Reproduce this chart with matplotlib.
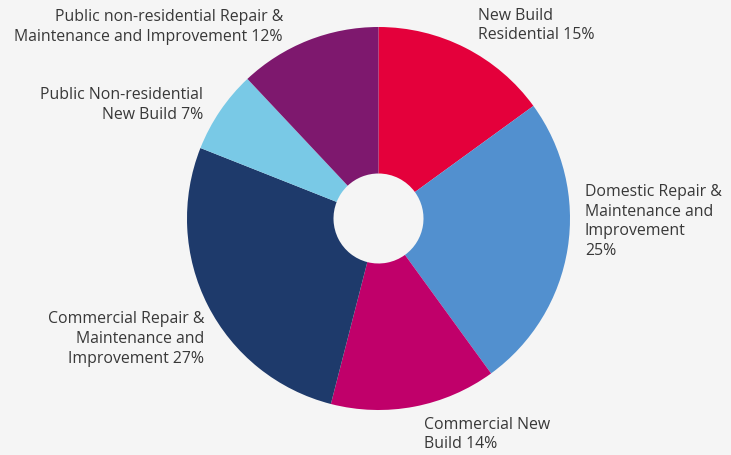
import matplotlib.pyplot as plt

# construction output split by sector (%)
sectors = [
    'New Build\nResidential 15%',
    'Domestic Repair &\nMaintenance and\nImprovement\n25%',
    'Commercial New\nBuild 14%',
    'Commercial Repair &\nMaintenance and\nImprovement 27%',
    'Public Non-residential\nNew Build 7%',
    'Public non-residential Repair &\nMaintenance and Improvement 12%',
]
shares = [15, 25, 14, 27, 7, 12]
colors = ['#e4003b', '#5290cf', '#c0006a', '#1e3a6b', '#79c9e6', '#7e186e']

# label anchor (pixels from top-left) and alignment
label_pos = [(478, 25.5), (585, 221.5), (424, 434.5), (204, 339), (203, 105), (283, 27)]
label_ha = ['left', 'left', 'left', 'right', 'right', 'right']

W, H = 731, 455
bg = '#f5f5f5'
plt.rcParams['font.family'] = ['Open Sans', 'DejaVu Sans']

fig = plt.figure(figsize=(W / 100, H / 100), dpi=100, facecolor=bg)
ax = fig.add_axes([0, 0, 1, 1])
ax.set_facecolor(bg)

cx, cy = 378.5, H - 218.5
r_out, r_in = 191.5, 45

ax.pie(shares, colors=colors, startangle=90, counterclock=False,
       center=(cx, cy), radius=r_out, frame=True,
       wedgeprops=dict(width=r_out - r_in, linewidth=0))
ax.set_xlim(0, W)
ax.set_ylim(0, H)
ax.set_aspect('equal')
ax.axis('off')

for text, (x, y), ha in zip(sectors, label_pos, label_ha):
    ax.text(x, H - y, text, ha=ha, va='center', multialignment=ha,
            fontsize=11.4, color='#383838', linespacing=1.32)

fig.savefig('out.png', dpi=100, facecolor=bg)
